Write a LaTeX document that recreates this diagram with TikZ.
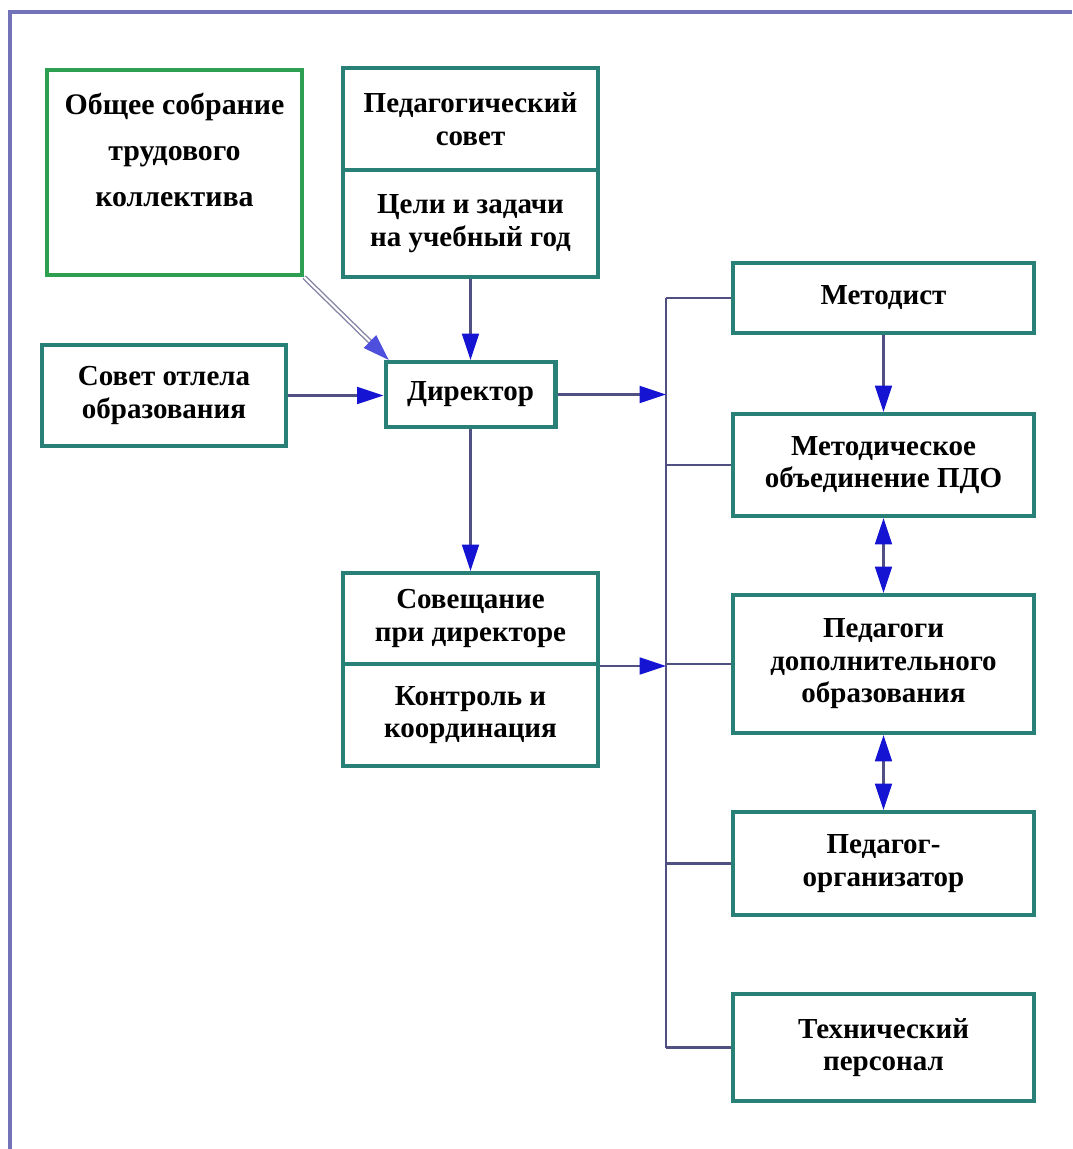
\documentclass[tikz,border=0pt]{standalone}
\usepackage{fontspec}
\setmainfont{Liberation Serif}
\usetikzlibrary{arrows.meta}

\definecolor{boxteal}{RGB}{40,128,118}
\definecolor{boxgreen}{RGB}{44,160,80}
\definecolor{linkgray}{RGB}{80,80,130}
\definecolor{tipblue}{RGB}{20,20,210}
\definecolor{framelav}{RGB}{115,115,185}

\begin{document}
\begin{tikzpicture}[x=0.02cm,y=-0.02cm,
    unit/.style={draw=boxteal,line width=2.3pt,fill=white,inner sep=0pt,align=center,
        font=\fontsize{16.5}{18.5}\selectfont\bfseries},
    bigunit/.style={unit,draw=boxgreen,line width=2.5pt,
        font=\fontsize{17}{26}\selectfont\bfseries},
    bus/.style={draw=linkgray,line width=1.5pt},
    link/.style={bus,-{Triangle[color=tipblue,length=15pt,width=9.5pt]}},
    duplex/.style={bus,{Triangle[color=tipblue,length=15pt,width=9.5pt]}-{Triangle[color=tipblue,length=15pt,width=9.5pt]}},
    dlink/.style={draw=linkgray!70,double=white,double distance=1.2pt,line width=0.8pt,
        -{Triangle[color=tipblue!75,length=15pt,width=10pt]}}]
    \useasboundingbox (0,0) rectangle (1072,1149);
    % frame
    \draw[framelav,line width=2pt] (10,1149) -- (10,12) -- (1072,12);

    % left and middle column
    \node[bigunit,minimum width=5.1cm,minimum height=4.1cm] (obshee) at (174.5,172.5)
        {Общее собрание\\трудового\\коллектива\\ \mbox{}};
    \node[unit,minimum width=5.1cm,minimum height=2.04cm] (pedsovet) at (470.5,119)
        {Педагогический\\совет};
    \node[unit,minimum width=5.1cm,minimum height=2.14cm] (celi) at (470.5,223.5)
        {Цели и задачи\\на учебный год};
    \node[unit,minimum width=4.88cm,minimum height=2.02cm] (sovet) at (164,395.5)
        {Совет отлела\\образования};
    \node[unit,minimum width=3.4cm,minimum height=1.3cm] (dir) at (470.5,394.5)
        {Директор};
    \node[unit,minimum width=5.1cm,minimum height=1.82cm] (soveshch) at (470.5,618.5)
        {Совещание\\при директоре};
    \node[unit,minimum width=5.1cm,minimum height=2.04cm] (kontrol) at (470.5,715)
        {Контроль и\\координация};

    % right column
    \node[unit,minimum width=6.02cm,minimum height=1.4cm] (metod) at (883.5,298)
        {Методист};
    \node[unit,minimum width=6.02cm,minimum height=2.04cm] (mo) at (883.5,465)
        {Методическое\\объединение ПДО};
    \node[unit,minimum width=6.02cm,minimum height=2.76cm] (pdo) at (883.5,664)
        {Педагоги\\дополнительного\\образования};
    \node[unit,minimum width=6.02cm,minimum height=2.06cm] (porg) at (883.5,863.5)
        {Педагог-\\организатор};
    \node[unit,minimum width=6.02cm,minimum height=2.14cm] (tech) at (883.5,1047.5)
        {Технический\\персонал};

    % bus
    \coordinate (busTop) at (666,298);
    \coordinate (busBot) at (666,1047.5);
    \draw[bus] (busTop) -- (busBot);
    \foreach \n in {metod,mo,pdo,porg,tech}
        \draw[bus] (\n.west) -- (\n.west -| busTop);

    % arrows
    \draw[link] (celi.south) -- (dir.north);
    \draw[link] (sovet.east) -- (sovet.east -| dir.west);
    \draw[link] (dir.east) -- (dir.east -| busTop);
    \draw[link] (dir.south) -- (soveshch.north);
    \draw[link] (soveshch.south east) -- (soveshch.south east -| busTop);
    \draw[link] (metod.south) -- (mo.north);
    \draw[duplex] (mo.south) -- (pdo.north);
    \draw[duplex] (pdo.south) -- (porg.north);
    \draw[dlink] (obshee.south east) -- ([xshift=3pt]dir.north west);
\end{tikzpicture}
\end{document}
